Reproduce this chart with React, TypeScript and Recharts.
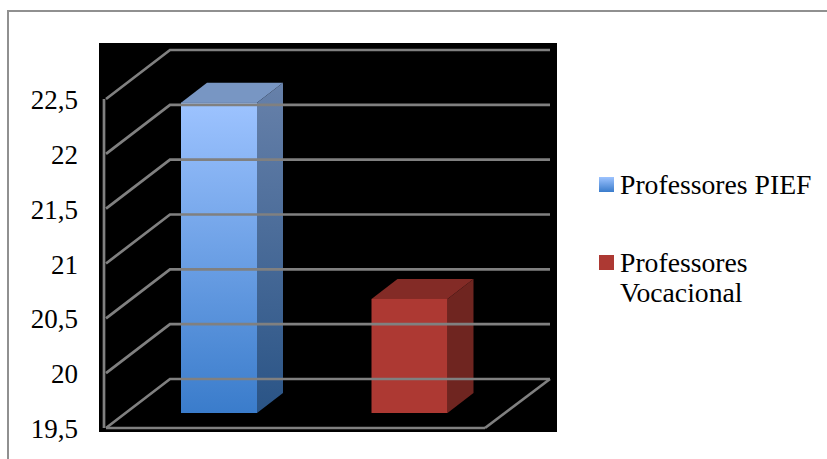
import { Bar, BarChart, Legend, XAxis, YAxis } from "recharts";

const categories = ["Professores PIEF", "Professores Vocacional"];
const values = [22.33, 20.54];
const yTicks = [19.5, 20, 20.5, 21, 21.5, 22, 22.5];

const chartData = categories.map((name, i) => ({ name, value: values[i] }));

const gridStroke = "#808080";
const gridWidth = 2.7;
const fontFamily = "'Liberation Serif', serif";
const plotRight = 485;
const depthX = 64;
const depthY = 49;

const barFaces = [
  { front: "url(#pief-front)", side: "url(#pief-side)", top: "#7896c3" },
  { front: "#ad3933", side: "#6f2520", top: "#832b26" },
];
const legendSwatches = ["linear-gradient(#9dc3ff, #3a7ccb)", "#ad3933"];

// wall lines hang off the axis ticks, so they follow the y scale
function WallTick({ x, y, payload, index }: any) {
  const left = x + 8;
  return (
    <g>
      {index === 0 && (
        <>
          <line x1={left} y1={y} x2={plotRight} y2={y} stroke={gridStroke} strokeWidth={gridWidth} />
          <line x1={plotRight} y1={y} x2={plotRight + depthX + 1} y2={y - depthY} stroke={gridStroke} strokeWidth={gridWidth} />
        </>
      )}
      <polyline
        points={`${left},${y} ${left + depthX},${y - depthY} ${plotRight + depthX + 1},${y - depthY}`}
        fill="none"
        stroke={gridStroke}
        strokeWidth={gridWidth}
      />
      <text x={78} y={y + 10} textAnchor="end" fontSize={27} fontFamily={fontFamily} fill="#000">
        {String(payload.value).replace(".", ",")}
      </text>
    </g>
  );
}

function Box3D({ x, y, width, height, index }: any) {
  const faces = barFaces[index];
  const fx = x + 20;
  const fy = y - 15;
  const dx = 26;
  const dy = 20;
  return (
    <g>
      <path d={`M${fx},${fy} l${dx},${-dy} h${width} l${-dx},${dy} z`} fill={faces.top} />
      <path d={`M${fx + width},${fy} l${dx},${-dy} v${height} l${-dx},${dy} z`} fill={faces.side} />
      <rect x={fx} y={fy} width={width} height={height} fill={faces.front} />
    </g>
  );
}

function LegendBox() {
  return (
    <div style={{ fontFamily, fontSize: 27.7, lineHeight: "30px", color: "#000" }}>
      {categories.map((name, i) => {
        const words = name.split(" ");
        return (
          <div key={name} style={{ position: "absolute", left: 0, top: i === 0 ? 0 : 78, width: 220 }}>
            <span
              style={{
                position: "absolute",
                left: 0,
                top: 7,
                width: 15,
                height: 15,
                background: legendSwatches[i],
              }}
            />
            <div style={{ marginLeft: 21 }}>
              {i === 1 ? (
                <>
                  {words[0]}
                  <br />
                  {words[1]}
                </>
              ) : (
                name
              )}
            </div>
          </div>
        );
      })}
    </div>
  );
}

export default function App() {
  return (
    <div style={{ position: "fixed", left: 0, top: 0, width: 827, height: 459, background: "#fff", overflow: "hidden" }}>
      <div
        style={{
          position: "absolute",
          left: 7,
          top: 10,
          width: 830,
          height: 460,
          borderTop: "2px solid #909090",
          borderLeft: "2px solid #909090",
        }}
      />
      <div style={{ position: "absolute", left: 99, top: 43, width: 458, height: 389, background: "#000" }} />
      <div style={{ position: "absolute", left: 0, top: 0 }}>
        <BarChart
          width={827}
          height={459}
          data={chartData}
          margin={{ top: 99, right: 342, bottom: 31, left: 0 }}
          barSize={76}
        >
          <defs>
            <linearGradient id="pief-front" x1="0" y1="0" x2="0" y2="1">
              <stop offset="0%" stopColor="#9dc3ff" />
              <stop offset="100%" stopColor="#3a7ccb" />
            </linearGradient>
            <linearGradient id="pief-side" x1="0" y1="0" x2="0" y2="1">
              <stop offset="0%" stopColor="#6781aa" />
              <stop offset="100%" stopColor="#2a5486" />
            </linearGradient>
          </defs>
          <XAxis dataKey="name" tick={false} axisLine={false} tickLine={false} height={0} />
          <YAxis
            width={104}
            domain={[19.5, 22.5]}
            ticks={yTicks}
            interval={0}
            axisLine={{ stroke: gridStroke, strokeWidth: gridWidth }}
            tickLine={false}
            tick={<WallTick />}
            tickMargin={0}
          />
          <Bar dataKey="value" isAnimationActive={false} shape={<Box3D />} />
          <Legend
            layout="vertical"
            verticalAlign="middle"
            content={<LegendBox />}
            wrapperStyle={{ left: 599, top: 170, width: 220, height: 140 }}
          />
        </BarChart>
      </div>
    </div>
  );
}
